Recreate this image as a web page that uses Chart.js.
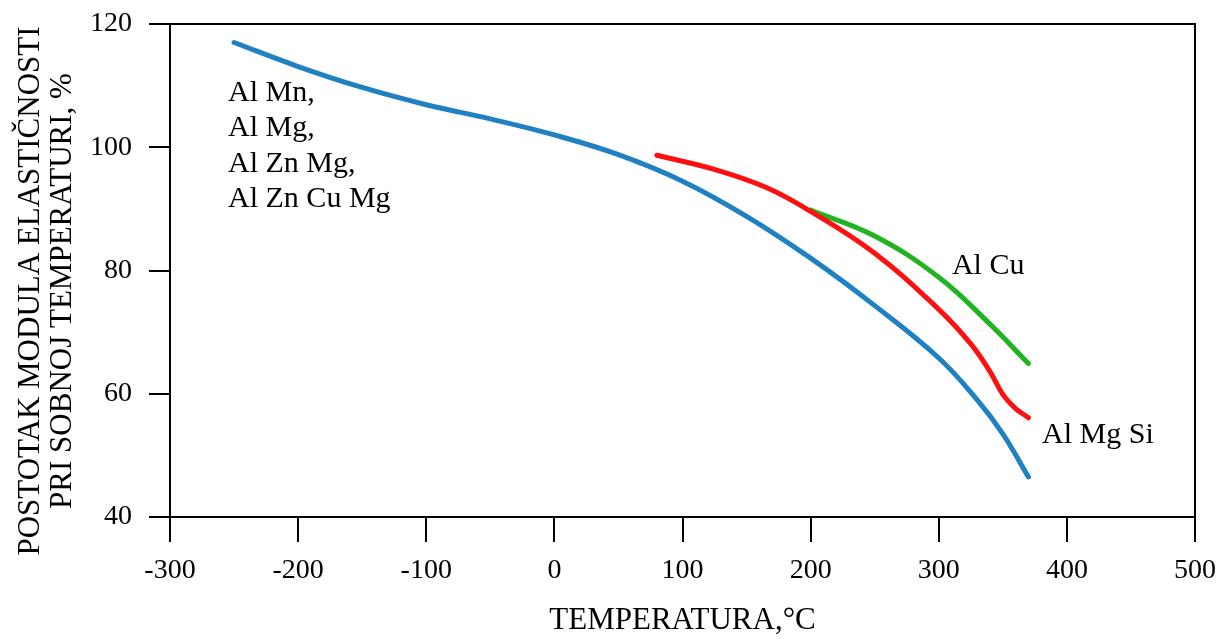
<!DOCTYPE html>
<html>
<head>
<meta charset="utf-8">
<script src="https://cdn.jsdelivr.net/npm/chart.js@4"></script>
<style>
  html, body { margin: 0; padding: 0; background: #fff; }
  canvas { display: block; }
</style>
</head>
<body>
<canvas id="c" width="1227" height="639"></canvas>
<script>
// ---- data ----
const blueX = [-250, -200, -150, -100, -50, 0, 50, 100, 150, 200, 250, 300, 330, 350, 370];
const blueY = [117, 113.1, 109.7, 106.9, 104.6, 102.0, 98.8, 94.5, 88.8, 82.0, 74.3, 65.8, 59.0, 53.5, 46.5];
const redX = [80, 125, 165, 200, 250, 300, 325, 340, 350, 360, 370];
const redY = [98.7, 96.4, 93.5, 89.6, 82.8, 73.7, 68.1, 63.6, 59.9, 57.6, 56.1];
const greenX = [200, 250, 300, 340, 370];
const greenY = [89.8, 85.6, 78.9, 71.3, 64.9];

const xTicks = [-300, -200, -100, 0, 100, 200, 300, 400, 500];
const yTicks = [40, 60, 80, 100, 120];

const xTitle = 'TEMPERATURA,°C';
const yTitle = ['POSTOTAK MODULA ELASTIČNOSTI', 'PRI SOBNOJ TEMPERATURI, %'];

// annotation texts and their anchor (data units, left edge / baseline)
const noteTexts = [['Al Mn,', 'Al Mg,', 'Al Zn Mg,', 'Al Zn Cu Mg'], ['Al Cu'], ['Al Mg Si']];
const noteX = [-254.7, 310.3, 380.6];
const noteY = [107.5, 79.4, 52.0];

// ---- build ----
const FONT = '"Liberation Serif", "Times New Roman", serif';
const zip = (xs, ys) => xs.map((x, i) => ({ x: x, y: ys[i] }));

const framePlugin = {
  id: 'frame',
  afterDraw(chart) {
    const { ctx, chartArea: a } = chart;
    ctx.save();
    ctx.strokeStyle = '#000';
    ctx.lineWidth = 2;
    ctx.beginPath();
    ctx.moveTo(a.left - 21, a.top);
    ctx.lineTo(a.right, a.top);
    ctx.lineTo(a.right, a.bottom);
    ctx.stroke();
    ctx.restore();
  }
};

const notesPlugin = {
  id: 'notes',
  afterDatasetsDraw(chart) {
    const { ctx, scales } = chart;
    ctx.save();
    ctx.fillStyle = '#000';
    ctx.font = '30px ' + FONT;
    ctx.textAlign = 'left';
    ctx.textBaseline = 'alphabetic';
    noteTexts.forEach((lines, i) => {
      const px = scales.x.getPixelForValue(noteX[i]);
      const py = scales.y.getPixelForValue(noteY[i]);
      lines.forEach((t, j) => ctx.fillText(t, px, py + j * 35.3));
    });
    // y axis title (two lines, rotated)
    ctx.font = '31px ' + FONT;
    ctx.textAlign = 'center';
    ctx.textBaseline = 'middle';
    ctx.translate(31, 291);
    ctx.rotate(-Math.PI / 2);
    yTitle.forEach((t, j) => ctx.fillText(t, 0, j * 32));
    ctx.restore();
  }
};

new Chart(document.getElementById('c'), {
  type: 'line',
  data: {
    datasets: [
      { data: zip(blueX, blueY), borderColor: '#1f80c2' },
      { data: zip(redX, redY), borderColor: '#ff1010' },
      { data: zip(greenX, greenY), borderColor: '#22b322' }
    ].map(d => Object.assign(d, {
      borderWidth: 5, pointRadius: 0, fill: false,
      tension: 0.4, borderCapStyle: 'round', borderJoinStyle: 'round'
    }))
  },
  options: {
    responsive: false,
    devicePixelRatio: 1,
    animation: false,
    layout: { padding: { top: 24, right: 32, left: 0, bottom: 0 } },
    plugins: { legend: { display: false }, tooltip: { enabled: false } },
    scales: {
      x: {
        type: 'linear', min: -300, max: 500,
        afterFit: s => { s.height = 122; s.paddingLeft = 0; s.paddingRight = 0; },
        afterBuildTicks: s => { s.ticks = xTicks.map(v => ({ value: v })); },
        ticks: { color: '#000', font: { family: FONT, size: 28 }, padding: 12, maxRotation: 0, callback: v => String(v) },
        grid: { drawOnChartArea: false, tickLength: 25, color: '#000', lineWidth: 2 },
        border: { display: true, color: '#000', width: 2 },
        title: { display: true, text: xTitle, color: '#000', font: { family: FONT, size: 31 }, padding: { top: 0, bottom: 0 } }
      },
      y: {
        type: 'linear', min: 40, max: 120,
        afterFit: s => { s.width = 170; s.paddingTop = 0; s.paddingBottom = 0; },
        afterBuildTicks: s => { s.ticks = yTicks.map(v => ({ value: v })); },
        ticks: { color: '#000', font: { family: FONT, size: 28 }, padding: 17, callback: v => String(v) },
        grid: { drawOnChartArea: false, tickLength: 21, color: '#000', lineWidth: 2 },
        border: { display: true, color: '#000', width: 2 }
      }
    }
  },
  plugins: [framePlugin, notesPlugin]
});
</script>
</body>
</html>
